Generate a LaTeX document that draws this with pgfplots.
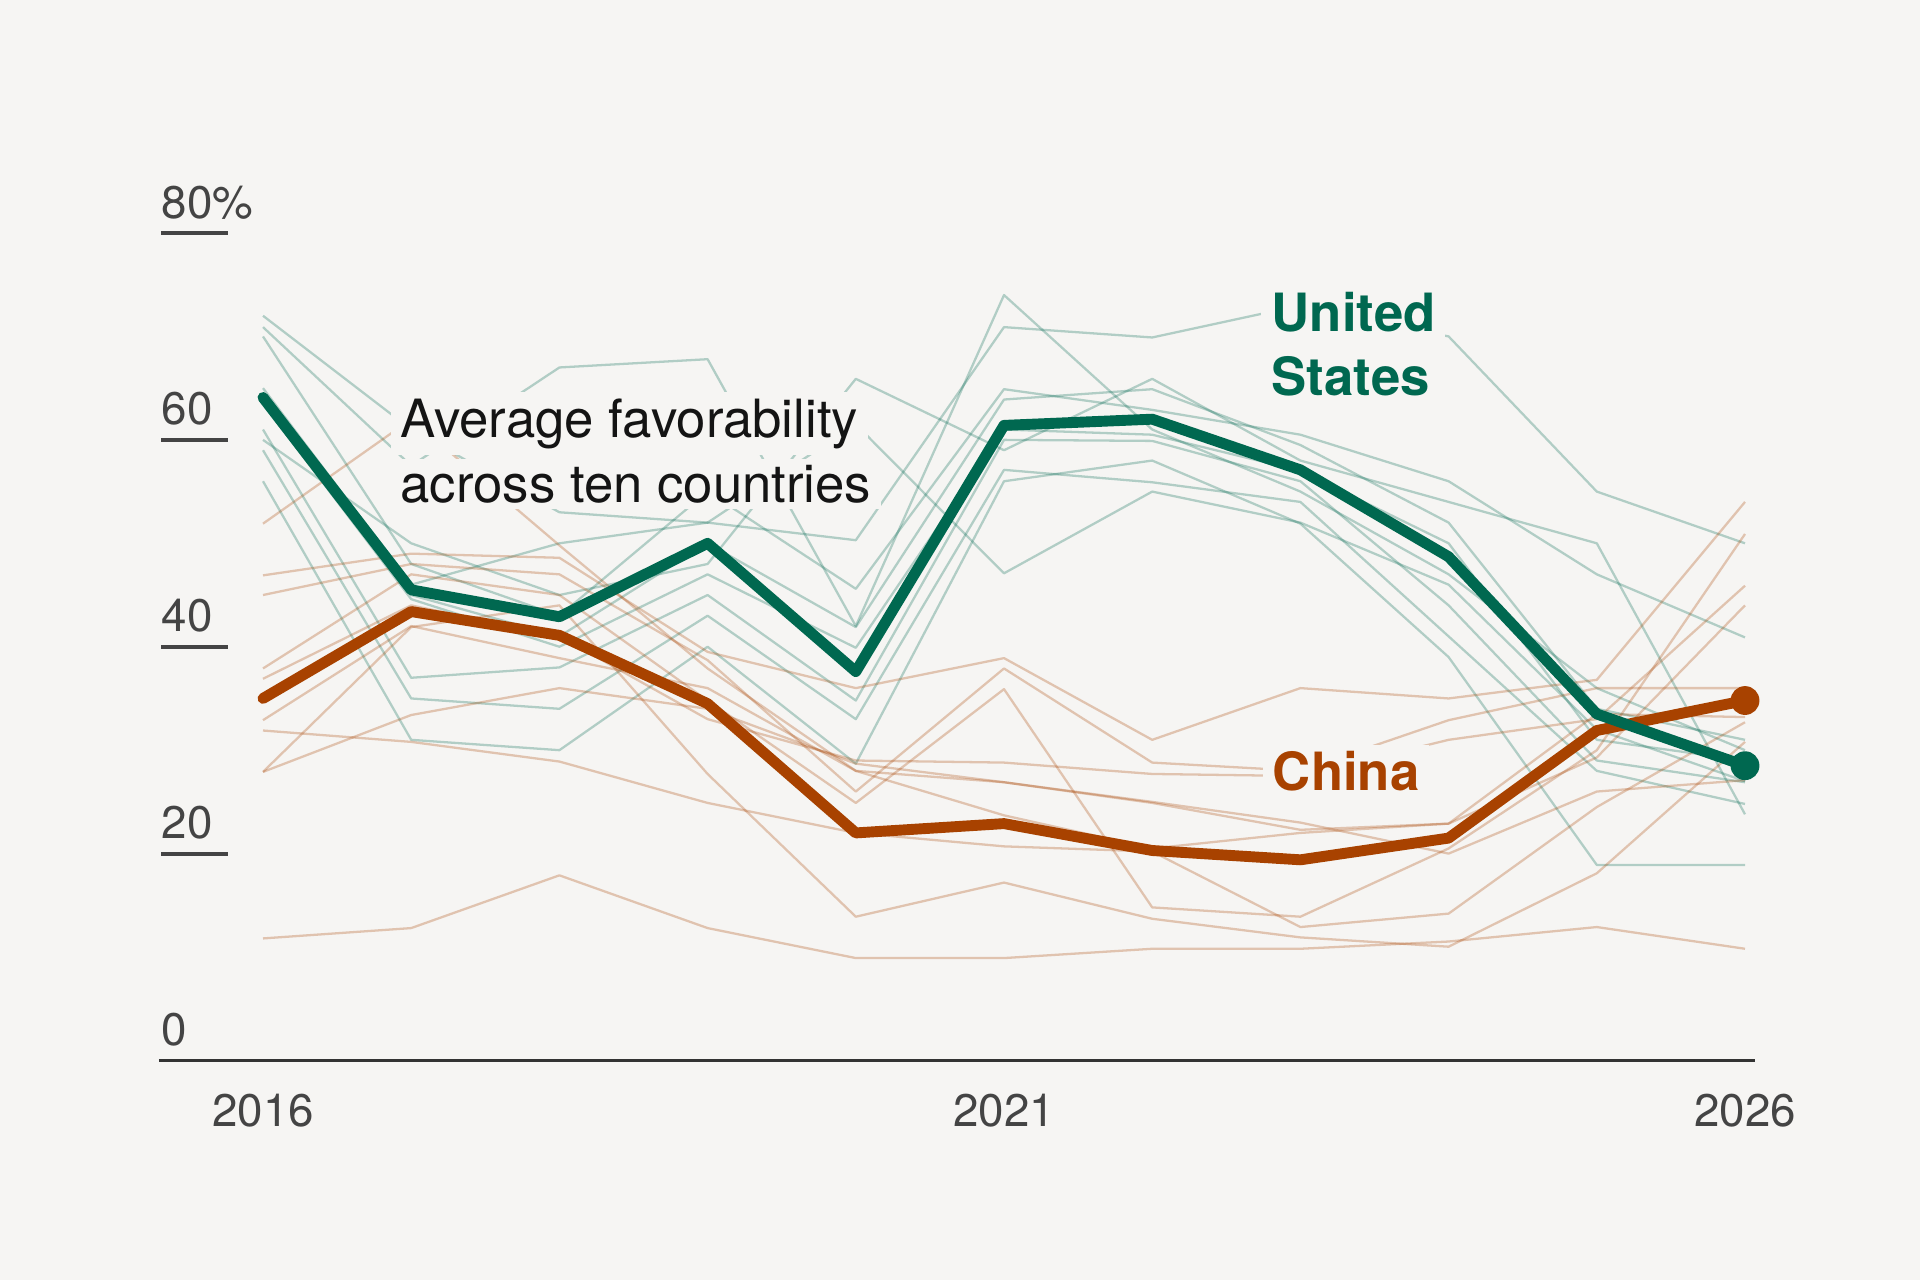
\documentclass[border=0pt]{standalone}
\usepackage{pgfplots}
\pgfplotsset{compat=1.18}
\usepackage{pgfplotstable}
\usepackage{fontspec}
\setmainfont{TeX Gyre Heros}

\definecolor{bgcol}{RGB}{246,245,243}
\definecolor{usgreen}{RGB}{0,104,80}
\definecolor{cnorange}{RGB}{168,66,0}
\definecolor{tickgray}{RGB}{68,68,68}
\definecolor{axisgray}{RGB}{51,51,51}

% Favorability of the United States in each of ten countries (%)
\pgfplotstableread{
year u1   u2   u3   u4   u5   u6   u7   u8   u9   u10
2016 72.0 70.9 60.0 65.0 70.0 64.0 63.5 61.0 59.0 56.0
2017 61.0 57.5 50.0 46.0 48.0 45.0 44.6 37.0 35.0 31.0
2018 53.0 67.0 45.0 50.0 43.0 41.0 40.0 38.0 34.0 30.0
2019 52.0 67.8 48.0 52.0 55.0 50.0 47.0 45.0 43.0 40.0
2020 50.3 42.0 65.9 61.5 45.6 41.9 39.9 34.8 33.0 28.7
2021 70.9 74.0 59.0 47.1 64.9 63.9 61.0 60.0 57.1 56.0
2022 69.9 61.0 65.9 55.0 62.9 64.9 60.5 59.9 55.9 58.0
2023 73.0 55.0 58.0 52.0 60.5 59.5 57.0 56.0 54.0 51.9
2024 70.0 47.0 54.0 46.0 56.0 52.0 50.0 44.0 41.0 39.0
2025 55.0 36.0 50.0 32.0 47.0 34.0 31.0 29.0 28.0 18.9
2026 50.0 30.0 23.8 27.0 40.9 31.0 29.0 26.9 24.8 18.9
}\usthin

% Favorability of China in each of ten countries (%)
\pgfplotstableread{
year c1   c2   c3   c4   c5   c6   c7   c8   c9   c10
2016 11.8 51.9 46.9 45.0 37.9 36.9 32.9 31.9 27.9 27.9
2017 12.8 62.0 49.0 48.0 47.0 44.0 42.0 30.8 41.9 33.4
2018 17.9 49.8 48.6 47.0 45.0 41.0 38.9 28.9 44.0 36.0
2019 12.8 37.9 39.5 38.7 34.8 33.0 36.0 24.9 27.7 34.0
2020  9.9 28.0 36.0 26.0 24.9 29.0 28.0 22.0 13.9 28.7
2021  9.9 26.9 38.9 37.9 35.9 28.8 23.7 20.7 17.2 26.9
2022 10.8 24.9 31.0 28.8 14.8 27.7 20.5 20.2 13.7 25.0
2023 10.8 22.3 36.0 28.0 13.9 27.5 22.0 12.9 11.9 23.0
2024 11.5 22.9 35.0 32.9 20.5 31.0 22.9 14.2 11.0 20.0
2025 12.9 29.3 36.8 36.0 30.0 33.0 33.5 24.5 18.1 26.0
2026 10.8 44.0 54.0 36.0 50.9 45.9 33.2 32.7 30.8 27.1
}\cnthin

% Average favorability across the ten countries (%)
\pgfplotstableread{
year us   cn
2016 64.1 35.0
2017 45.5 43.4
2018 42.9 41.1
2019 50.0 34.5
2020 37.6 22.0
2021 61.4 22.9
2022 62.0 20.3
2023 57.1 19.4
2024 48.7 21.5
2025 33.5 31.9
2026 28.5 34.8
}\avg

\newcommand{\tickfont}{\fontsize{13pt}{15.5pt}\selectfont}
\newcommand{\notefont}{\fontsize{15pt}{18pt}\selectfont}

\begin{document}
\begin{tikzpicture}[x=1cm,y=1cm,
  note/.style={anchor=base west, inner xsep=1mm, inner ysep=0.6mm,
    fill=bgcol, font=\notefont}]
\fill[bgcol] (0,0) rectangle (19.2,12.8);
\path[use as bounding box] (0,0) rectangle (19.2,12.8);
\begin{axis}[
  at={(2.63cm,2.195cm)}, anchor=south west,
  scale only axis, width=14.82cm, height=8.275cm,
  xmin=2016, xmax=2026, ymin=0, ymax=80,
  clip=false,
  axis line style={draw=none},
  major tick length=0pt,
  xtick={2016,2021,2026}, xticklabels={2016,2021,2026},
  ytick={0,20,40,60,80}, yticklabels={0,20,40,60,80\%},
  xticklabel style={anchor=base, inner sep=0pt, yshift=-6.65mm,
    font=\tickfont, text=tickgray},
  yticklabel style={anchor=base west, inner sep=0pt, xshift=-10.2mm,
    yshift=1.5mm, font=\tickfont, text=tickgray},
  thinus/.style={usgreen, opacity=0.28, line width=0.65pt, line join=round, no markers},
  thincn/.style={cnorange, opacity=0.28, line width=0.65pt, line join=round, no markers},
]
% short rules under the y tick labels
\draw[tickgray, line width=1.1pt] (axis cs:2015.312,20) -- (axis cs:2015.764,20);
\draw[tickgray, line width=1.1pt] (axis cs:2015.312,40) -- (axis cs:2015.764,40);
\draw[tickgray, line width=1.1pt] (axis cs:2015.312,60) -- (axis cs:2015.764,60);
\draw[tickgray, line width=1.1pt] (axis cs:2015.312,80) -- (axis cs:2015.764,80);
% baseline
\draw[axisgray, line width=0.9pt] (axis cs:2015.298,0) -- (axis cs:2026.068,0);

% individual countries
\pgfplotsinvokeforeach{1,...,10}{
  \addplot[thinus] table[x=year, y=u#1] {\usthin};
}
\pgfplotsinvokeforeach{1,...,10}{
  \addplot[thincn] table[x=year, y=c#1] {\cnthin};
}

% anchors for the annotations
\coordinate (avgA) at (axis cs:2016.924,60.27);
\coordinate (avgB) at (axis cs:2016.924,53.97);
\coordinate (usA)  at (axis cs:2022.80,70.52);
\coordinate (usB)  at (axis cs:2022.80,64.33);
\coordinate (cnA)  at (axis cs:2022.81,26.15);
\end{axis}

% annotations, knocked out of the thin lines behind them
\node[note, text=black!92, xshift=-1mm] at (avgA) {Average favorability};
\node[note, text=black!92, xshift=-1mm] at (avgB) {across ten countries};
\node[note, text=usgreen, font=\notefont\bfseries, xshift=-1mm] at (usA) {United};
\node[note, text=usgreen, font=\notefont\bfseries, xshift=-1mm] at (usB) {States};
\node[note, text=cnorange, font=\notefont\bfseries, xshift=-1mm] at (cnA) {China};

% averages on top
\begin{axis}[
  at={(2.63cm,2.195cm)}, anchor=south west,
  scale only axis, width=14.82cm, height=8.275cm,
  xmin=2016, xmax=2026, ymin=0, ymax=80,
  clip=false, hide axis,
]
\addplot[cnorange, line width=3.1pt, line join=round, line cap=round, no markers] table[x=year, y=cn] {\avg};
\addplot[usgreen, line width=3.1pt, line join=round, line cap=round, no markers] table[x=year, y=us] {\avg};
\addplot[only marks, mark=*, mark size=3.9pt, cnorange] coordinates {(2026,34.8)};
\addplot[only marks, mark=*, mark size=3.9pt, usgreen] coordinates {(2026,28.5)};
\end{axis}
\end{tikzpicture}
\end{document}
